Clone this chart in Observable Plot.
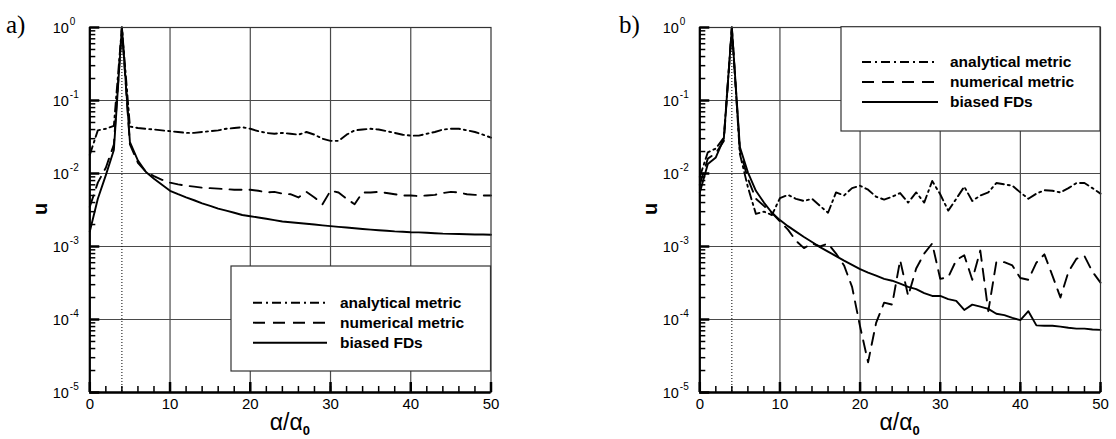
<!DOCTYPE html>
<html><head><meta charset="utf-8">
<script src="https://cdn.jsdelivr.net/npm/d3@7"></script>
<script src="https://cdn.jsdelivr.net/npm/@observablehq/plot@0.6"></script>
<style>
body{margin:0;background:#fff;}
#wrap{position:relative;width:1116px;height:439px;overflow:hidden;}
.panel{position:absolute;top:0;}
#overlay{position:absolute;left:0;top:0;}
</style></head><body><div id="wrap"></div>
<script>
// x values: alpha / alpha_0
const alphaRatio = d3.range(0, 51);
// Panel a
const analyticalA = [0.018,0.039,0.041,0.045,1.0,0.044,0.042,0.041,0.040,0.039,0.038,0.037,0.036,0.036,0.037,0.038,0.039,0.041,0.042,0.043,0.041,0.038,0.036,0.035,0.036,0.035,0.034,0.037,0.034,0.030,0.028,0.028,0.034,0.039,0.040,0.041,0.040,0.038,0.036,0.034,0.033,0.033,0.035,0.037,0.040,0.041,0.041,0.039,0.037,0.034,0.031];
const numericalA = [0.0035,0.0075,0.012,0.025,1.0,0.025,0.014,0.0105,0.0092,0.0082,0.0075,0.0071,0.0068,0.0066,0.0064,0.0063,0.0062,0.0061,0.0060,0.0060,0.0060,0.0058,0.0055,0.0056,0.0053,0.0052,0.0047,0.0056,0.0047,0.0038,0.0058,0.0055,0.0045,0.0038,0.0055,0.0055,0.0056,0.0054,0.0052,0.0050,0.0050,0.0049,0.0050,0.0051,0.0054,0.0056,0.0055,0.0052,0.0051,0.0050,0.0050];
const biasedA = [0.0016,0.0045,0.0095,0.021,1.0,0.027,0.015,0.0105,0.0085,0.0070,0.0058,0.0052,0.0047,0.0043,0.0039,0.0036,0.0033,0.0031,0.0029,0.0027,0.0026,0.0025,0.0024,0.0023,0.0022,0.00215,0.0021,0.00205,0.0020,0.00195,0.0019,0.00186,0.00182,0.00178,0.00174,0.0017,0.00167,0.00164,0.00161,0.00159,0.00157,0.00156,0.00154,0.00152,0.0015,0.00149,0.00148,0.00147,0.00146,0.00146,0.00145];
// Panel b
const analyticalB = [0.009,0.0195,0.022,0.031,1.0,0.0186,0.0065,0.0028,0.0030,0.0027,0.0046,0.0051,0.0045,0.0042,0.0045,0.0036,0.0029,0.0055,0.0050,0.0063,0.0068,0.0060,0.0048,0.0044,0.0048,0.0054,0.0040,0.0055,0.0040,0.0079,0.0052,0.0031,0.0045,0.0066,0.0042,0.0050,0.0055,0.0074,0.0071,0.0068,0.0055,0.0045,0.0053,0.0059,0.0058,0.0055,0.0063,0.0074,0.0074,0.0063,0.0053];
const numericalB = [0.007,0.016,0.019,0.028,1.0,0.021,0.0085,0.0045,0.0036,0.0029,0.0022,0.0017,0.0012,0.00095,0.0011,0.001,0.0011,0.0008,0.00055,0.00028,0.00008,0.000026,0.00009,0.00017,0.00016,0.00065,0.00021,0.0005,0.0008,0.0011,0.00036,0.00038,0.00065,0.00076,0.00035,0.00088,0.00013,0.00061,0.00061,0.00055,0.00037,0.00035,0.0006,0.00078,0.0004,0.0002,0.00045,0.00068,0.00074,0.00045,0.00032];
const biasedB = [0.0055,0.0135,0.0166,0.030,1.0,0.023,0.0104,0.0058,0.0040,0.0029,0.0023,0.0019,0.0016,0.00135,0.00115,0.00098,0.00085,0.00074,0.00064,0.00056,0.00049,0.00044,0.00040,0.00036,0.00034,0.00031,0.00028,0.00026,0.00023,0.00021,0.00021,0.00019,0.00018,0.000135,0.00016,0.00015,0.00014,0.00012,0.000115,0.000105,0.000098,0.00013,0.000083,0.000082,0.000082,0.00008,0.000077,0.000075,0.000075,0.000073,0.000072];

const seriesNames = ["analytical metric", "numerical metric", "biased FDs"];
const seriesDash = ["9,4,2,4", "12,8", null];
const xTicks = [0,10,20,30,40,50];
const xMinor = d3.range(0, 51, 2);
const yDecades = [1e-5,1e-4,1e-3,1e-2,1e-1,1];
const yExponents = ["-5","-4","-3","-2","-1","0"];
const yMinor = d3.range(-5,0).flatMap(k => d3.range(2,10).map(m => m*Math.pow(10,k)));
const peakX = [4];
const FONT = "Liberation Sans, Arial, Helvetica, sans-serif";
const W = 558, H = 439, MT = 27, MB = 47;

function panel(series, marginLeft, marginRight) {
  const table = series.flatMap((vals, s) => vals.map((v, i) => ({x: alphaRatio[i], u: v, s})));
  const fw = W - marginLeft - marginRight, fh = H - MT - MB;
  return Plot.plot({
    width: W, height: H,
    marginLeft, marginRight, marginTop: MT, marginBottom: MB,
    style: {fontFamily: FONT, background: "transparent", overflow: "visible"},
    x: {domain: [0, 50], axis: null, label: null},
    y: {type: "log", domain: [1e-5, 1], axis: null, label: null},
    marks: [
      Plot.gridX(xTicks.slice(1, -1), {stroke: "#4a4a4a", strokeOpacity: 1, strokeWidth: 1.2}),
      Plot.gridY(yDecades.slice(1, -1), {stroke: "#4a4a4a", strokeOpacity: 1, strokeWidth: 1.2}),
      Plot.ruleX(peakX, {stroke: "#000", strokeWidth: 1, strokeDasharray: "1,2"}),
      ...series.map((vals, s) => Plot.line(table.filter(d => d.s === s), {
        x: "x", y: "u", stroke: "#000", strokeWidth: 1.9, strokeDasharray: seriesDash[s]
      })),
      Plot.frame({stroke: "#333", strokeWidth: 1.2}),
      // inward ticks (rules trimmed to tick length)
      Plot.ruleX(xMinor, {insetTop: fh - 6, stroke: "#000", strokeWidth: 1.5}),
      Plot.ruleX(xTicks, {insetTop: fh - 10, stroke: "#000", strokeWidth: 2.5}),
      Plot.ruleY(yMinor, {insetRight: fw - 6, stroke: "#000", strokeWidth: 1.5}),
      Plot.ruleY(yDecades, {insetRight: fw - 10, stroke: "#000", strokeWidth: 2.5}),
      Plot.ruleX([0], {stroke: "#000", strokeWidth: 2.2}),
      Plot.ruleY([1e-5], {stroke: "#000", strokeWidth: 2.5}),
      Plot.text(xTicks, {x: d => d, frameAnchor: "bottom", dy: 16, text: d => String(d), fontSize: 15, fill: "#000"}),
      Plot.text(yDecades, {y: d => d, frameAnchor: "left", dx: -21, dy: 1, textAnchor: "end", text: () => "10", fontSize: 14.5, fill: "#000"}),
      Plot.text(yDecades, {y: d => d, frameAnchor: "left", dx: -20, dy: -6, textAnchor: "start", text: (d, i) => yExponents[i], fontSize: 10, fill: "#000"})
    ]
  });
}

const wrap = document.getElementById("wrap");
const pa = panel([analyticalA, numericalA, biasedA], 89.3, 67.5);
pa.classList.add("panel"); pa.style.left = "0px";
const pb = panel([analyticalB, numericalB, biasedB], 141.3, 16);
pb.classList.add("panel"); pb.style.left = "558px";
wrap.appendChild(pa); wrap.appendChild(pb);

// overlay: panel labels, axis titles, legends
const ov = d3.select(wrap).append("svg").attr("id", "overlay").attr("width", 1116).attr("height", 439);
function decorate(plotLeft, plotRight, tag, tagX, legend) {
  ov.append("text").attr("x", tagX).attr("y", 33).attr("font-family", "Liberation Serif, DejaVu Serif, serif")
    .attr("font-size", 25).text(tag);
  const cx = (plotLeft + plotRight) / 2;
  const t = ov.append("text").attr("x", cx).attr("y", 430).attr("text-anchor", "middle")
    .attr("font-family", FONT).attr("font-size", 23);
  t.append("tspan").text("α/α");
  t.append("tspan").attr("font-size", 13).attr("font-weight", "bold").attr("dy", 5).text("0");
  ov.append("text").attr("transform", `translate(${plotLeft - 42},209) rotate(-90)`).attr("text-anchor", "middle")
    .attr("font-family", FONT).attr("font-weight", "bold").attr("font-size", 20).text("u");
  const g = ov.append("g");
  g.append("rect").attr("x", legend.x0).attr("y", legend.y0).attr("width", legend.x1 - legend.x0)
    .attr("height", legend.y1 - legend.y0).attr("fill", "#fff").attr("stroke", "#333").attr("stroke-width", 1.2);
  seriesNames.forEach((name, i) => {
    const y = legend.rowY + i * 20;
    g.append("line").attr("x1", legend.lx0).attr("x2", legend.lx1).attr("y1", y).attr("y2", y)
      .attr("stroke", "#000").attr("stroke-width", 1.9).attr("stroke-dasharray", seriesDash[i]);
    g.append("text").attr("x", legend.tx).attr("y", y).attr("dy", "0.35em").attr("font-family", FONT)
      .attr("font-weight", "bold").attr("font-size", 15.5).text(name);
  });
}
decorate(89.3, 490.5, "a)", 6, {x0: 231, x1: 490.5, y0: 266, y1: 371, lx0: 253, lx1: 327, tx: 340, rowY: 302.7});
decorate(699.3, 1100, "b)", 619, {x0: 841, x1: 1100, y0: 26.7, y1: 131, lx0: 862, lx1: 938, tx: 950, rowY: 62});
</script></body></html>
